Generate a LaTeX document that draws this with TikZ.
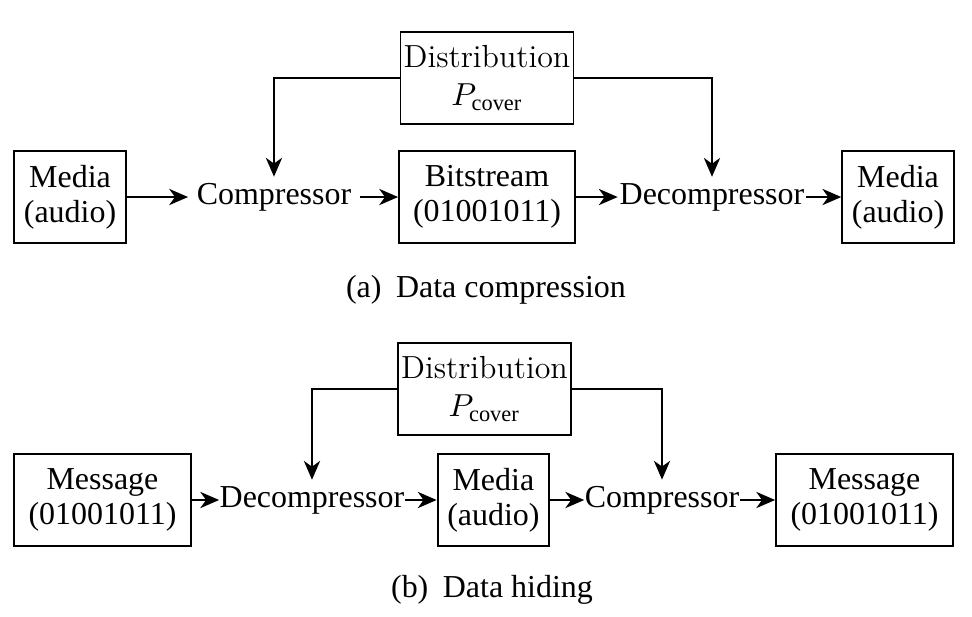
\documentclass[tikz,border=0pt]{standalone}
\usepackage{fontspec}
\setmainfont{Liberation Serif}
\usetikzlibrary{arrows.meta}
\tikzset{
    box/.style={draw, line width=0.65pt, minimum height=1.113cm, align=center},
    distbox/.style={
        box, inner xsep=0.5pt,
        font=\fontsize{11}{13}\fontfamily{lmr}\selectfont
    },
    proc/.style={inner xsep=0.5pt, inner ysep=2pt}
}

\begin{document}
\begin{tikzpicture}[
    font=\fontsize{11}{12}\selectfont,
    arrow/.style={-{Stealth[length=6.5pt,width=5.6pt,inset=2pt]}, line width=0.65pt},
]
\useasboundingbox (0,0) rectangle (11.761,-7.454);

% ===============================
%       (a) Data compression
% ===============================

\node[box, minimum width=1.343cm] (media1) at (0.847,-2.384) {Media\\(audio)};
\node[proc, inner xsep=2.8pt] (comp1) at (3.315,-2.384) {Compressor};
\node[box, minimum width=2.13cm] (bits) at (5.893,-2.384) {Bitstream\\(01001011)};
\node[distbox, minimum width=2.093cm] (dist1) at (5.893,-0.944)
    {Distribution\\$P_{\mathrm{cover}}$};
\node[proc] (decomp1) at (8.615,-2.384) {Decompressor};
\node[box, minimum width=1.343cm] (media2) at (10.866,-2.384) {Media\\(audio)};

\node (capa) at (5.88,-3.51) {(a)\hspace{5pt}Data compression};

\draw[arrow] (media1) -- (comp1);
\draw[arrow] (comp1) -- (bits);
\draw[arrow] (bits) -- (decomp1);
\draw[arrow] (decomp1) -- (media2);
\draw[arrow] (dist1.west) -| (comp1.north);
\draw[arrow] (dist1.east) -| (decomp1.north);

% ===============================
%         (b) Data hiding
% ===============================

\node[box, minimum width=2.14cm] (msg1) at (1.24,-6.05) {Message\\(01001011)};
\node[proc, inner xsep=0pt] (decomp2) at (3.775,-6.05) {Decompressor};
\node[box, minimum width=1.343cm] (media3) at (5.97,-6.05) {Media\\(audio)};
\node[distbox, minimum width=2.093cm] (dist2) at (5.862,-4.707)
    {Distribution\\$P_{\mathrm{cover}}$};
\node[proc, inner xsep=0pt] (comp2) at (8.01,-6.05) {Compressor};
\node[box, minimum width=2.14cm] (msg2) at (10.46,-6.05) {Message\\(01001011)};

\node (capb) at (5.953,-7.14) {(b)\hspace{5pt}Data hiding};

\draw[arrow] (msg1) -- (decomp2);
\draw[arrow] (decomp2) -- (media3);
\draw[arrow] (media3) -- (comp2);
\draw[arrow] (comp2) -- (msg2);
\draw[arrow] (dist2.west) -| (decomp2.north);
\draw[arrow] (dist2.east) -| (comp2.north);

\end{tikzpicture}
\end{document}
